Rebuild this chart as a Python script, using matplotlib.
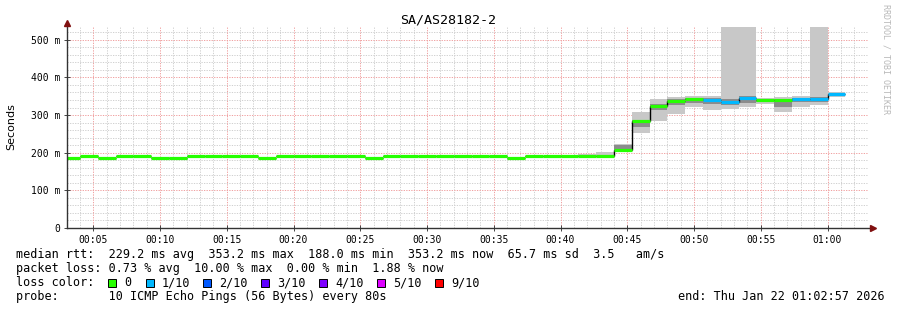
import numpy as np
import matplotlib
matplotlib.use("Agg")
import matplotlib.pyplot as plt
from matplotlib.patches import Rectangle

# ---- data (minutes after 00:00, one value per 80 s step) ----
step_min = 80 / 60.0
first_step = 2  # steps start at k * 80 s from midnight
median = [187, 190, 187, 190, 190, 187, 187, 190, 190, 190, 190, 187,
          190, 190, 190, 190, 190, 187, 190, 190, 190, 190, 190, 190,
          190, 187, 190, 190, 190, 190, 190, 207, 285, 323, 338, 342,
          340, 335, 345, 340, 339, 343, 343, 355]
outer_lo = [186, 189, 186, 189, 189, 186, 186, 189, 189, 189, 189, 186,
            189, 189, 189, 189, 189, 186, 189, 189, 189, 189, 189, 189,
            189, 186, 189, 189, 189, 189, 189, 204, 253, 285, 303, 322,
            314, 317, 322, 330, 307, 322, 327, 348]
outer_hi = [189, 191, 189, 191, 191, 189, 189, 191, 191, 191, 191, 189,
            191, 191, 191, 192, 191, 189, 191, 191, 191, 191, 191, 191,
            191, 189, 191, 191, 194, 197, 201, 223, 308, 343, 348, 351,
            351, 600, 600, 345, 347, 351, 600, 360]
inner_lo = [187, 190, 187, 190, 190, 187, 187, 190, 190, 190, 190, 187,
            190, 190, 190, 190, 190, 187, 190, 190, 190, 190, 190, 190,
            190, 187, 190, 190, 190, 190, 190, 205, 269, 314, 327, 333,
            330, 326, 332, 335, 322, 335, 335, 351]
inner_hi = [187, 190, 187, 190, 190, 187, 187, 190, 190, 190, 190, 187,
            190, 190, 190, 190, 190, 187, 190, 190, 190, 190, 190, 190,
            190, 187, 190, 190, 190, 190, 190, 221, 287, 330, 342, 346,
            345, 343, 350, 343, 342, 346, 348, 357]
loss = [0] * 36 + [1, 1, 1, 0, 0, 1, 1, 1]

loss_labels = ["0", "1/10", "2/10", "3/10", "4/10", "5/10", "9/10"]
loss_colors = ["#26ff00", "#00b8ff", "#0059ff", "#5e00ff", "#7e00ff",
               "#dd00ff", "#ff0000"]

x_ticks = [5, 10, 15, 20, 25, 30, 35, 40, 45, 50, 55, 60]
x_ticklabels = ["00:05", "00:10", "00:15", "00:20", "00:25", "00:30",
                "00:35", "00:40", "00:45", "00:50", "00:55", "01:00"]
y_ticks = [0, 100, 200, 300, 400, 500]
y_ticklabels = ["0", "100 m", "200 m", "300 m", "400 m", "500 m"]

stats_lines = [
    "median rtt:  229.2 ms avg  353.2 ms max  188.0 ms min  353.2 ms now  65.7 ms sd  3.5   am/s",
    "packet loss: 0.73 % avg  10.00 % max  0.00 % min  1.88 % now",
]
probe_line = "probe:       10 ICMP Echo Pings (56 Bytes) every 80s"
end_line = "end: Thu Jan 22 01:02:57 2026"

# ---- figure ----
W, H = 897, 310
fig = plt.figure(figsize=(W / 100, H / 100), dpi=100)
fig.patch.set_facecolor("white")
L, R, T, B = 67, 868, 27, 228
ax = fig.add_axes([L / W, 1 - B / H, (R - L) / W, (B - T) / H])
ax.set_xlim(3.03, 63.03)
ax.set_ylim(0, 534)

mono = "DejaVu Sans Mono"
n = len(median)
edges = (first_step + np.arange(n + 1)) * step_min
med = np.array(median, dtype=float)


def ext(v):
    return np.append(v, v[-1])


ax.fill_between(edges, ext(outer_lo), ext(outer_hi), step="post",
                color="#c8c8c8", lw=0, zorder=2)
ax.fill_between(edges, ext(inner_lo), ext(inner_hi), step="post",
                color="#8c8c8c", lw=0, zorder=3)

# black connectors where the median jumps
jump = np.abs(np.diff(med)) > 5
ax.vlines(edges[1:-1][jump], med[:-1][jump], med[1:][jump], color="black",
          lw=1.0, zorder=4)
ax.hlines(med, edges[:-1], edges[1:], color="#202020", lw=0.8, zorder=4)
ax.hlines(med, edges[:-1], edges[1:],
          colors=[loss_colors[v] for v in loss], lw=2.3, zorder=5)

# grid
dot = (0, (1.3, 1.3))
for m in range(4, 64):
    if m % 5:
        ax.axvline(m, color="#d0d0d0", lw=0.7, ls=dot, zorder=1)
for y in range(20, 534, 20):
    if y % 100:
        ax.axhline(y, color="#d0d0d0", lw=0.7, ls=dot, zorder=1)
for m in x_ticks:
    ax.axvline(m, color="#f0a0a0", lw=0.7, ls=dot, zorder=1)
for y in y_ticks[1:]:
    ax.axhline(y, color="#f0a0a0", lw=0.7, ls=dot, zorder=1)

for s in ax.spines.values():
    s.set_visible(False)
ax.set_xticks(x_ticks)
ax.set_xticklabels(x_ticklabels, fontfamily=mono, fontsize=7)
ax.set_yticks(y_ticks)
ax.set_yticklabels(y_ticklabels, fontfamily=mono, fontsize=7)
ax.tick_params(axis="both", direction="inout", length=4, width=0.7,
               color="#444444", pad=3)

# axes with arrows
ax.plot([0, 1.006], [0, 0], transform=ax.transAxes, color="#333333",
        lw=1, clip_on=False, zorder=6)
ax.plot([0, 0], [0, 1.02], transform=ax.transAxes, color="#333333",
        lw=1, clip_on=False, zorder=6)
ax.plot([1.006], [0], transform=ax.transAxes, marker=">", color="#801010",
        ms=4, clip_on=False, zorder=7)
ax.plot([0], [1.02], transform=ax.transAxes, marker="^", color="#801010",
        ms=4, clip_on=False, zorder=7)

fig.text(448 / W, 1 - 20 / H, "SA/AS28182-2", fontfamily=mono,
         fontsize=9.6, ha="center", va="center")
fig.text(11 / W, 1 - 127 / H, "Seconds", fontsize=8, rotation=90,
         ha="center", va="center")
fig.text(886 / W, 1 - 59 / H, "RRDTOOL / TOBI OETIKER", fontfamily=mono,
         fontsize=6, rotation=270, ha="center", va="center", color="#b8b8b8")

# legend
fs = 8.47
for i, line in enumerate(stats_lines):
    fig.text(16 / W, 1 - (254.5 + 14 * i) / H, line, fontfamily=mono,
             fontsize=fs, va="center")
fig.text(16 / W, 1 - 282.5 / H, "loss color:", fontfamily=mono,
         fontsize=fs, va="center")
box_x = [108, 146, 203, 261, 319, 377, 435]
for bx, lab, col in zip(box_x, loss_labels, loss_colors):
    fig.patches.append(Rectangle((bx / W, 1 - 287 / H), 8 / W, 8 / H,
                                 transform=fig.transFigure,
                                 facecolor=col, edgecolor="black", lw=0.7))
    fig.text((bx + 16) / W, 1 - 282.5 / H, lab, fontfamily=mono,
             fontsize=fs, va="center")
fig.text(16 / W, 1 - 296.5 / H, probe_line, fontfamily=mono,
         fontsize=fs, va="center")
fig.text(678 / W, 1 - 296.5 / H, end_line, fontfamily=mono,
         fontsize=fs, va="center")

fig.savefig("out.png", dpi=100)
